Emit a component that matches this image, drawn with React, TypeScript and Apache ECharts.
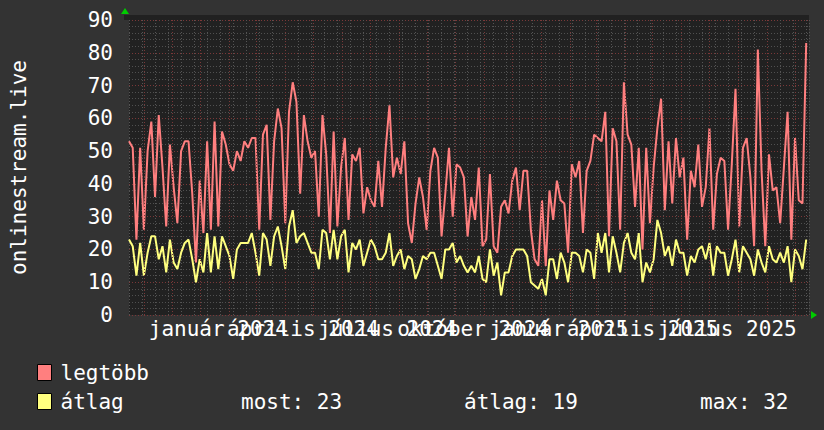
import React, { useEffect, useRef } from "react";
import * as echarts from "echarts";

const START_UTC = Date.UTC(2023, 9, 16);
const SPAN_DAYS = 731;
const STEP_DAYS = 4;
const DAY_MS = 86400000;

const SERIES_NAMES = ["legtöbb", "átlag"];
const SERIES_COLORS = ["#ff7f7f", "#ffff7f"];

const LEGTOBB = [
  53, 51, 23, 51, 26, 50, 59, 36, 61, 45, 27, 52, 39, 28, 50, 53, 53, 37, 16, 41,
  25, 53, 26, 59, 27, 56, 52, 46, 44, 50, 47, 53, 51, 54, 54, 26, 55, 58, 29, 53,
  63, 57, 28, 62, 71, 65, 37, 61, 53, 48, 50, 30, 61, 49, 25, 56, 27, 45, 54, 29,
  49, 47, 51, 31, 39, 35, 33, 47, 33, 51, 64, 42, 48, 43, 53, 28, 22, 34, 42, 36,
  26, 44, 51, 48, 24, 37, 51, 30, 46, 45, 42, 24, 36, 29, 45, 21, 23, 43, 21, 19,
  33, 35, 31, 41, 45, 32, 44, 44, 26, 17, 15, 35, 15, 38, 29, 41, 35, 34, 19, 46,
  42, 47, 25, 44, 47, 55, 54, 53, 62, 24, 57, 53, 26, 71, 55, 52, 33, 51, 20, 51,
  28, 45, 57, 66, 32, 53, 34, 54, 42, 48, 23, 44, 39, 52, 33, 39, 57, 26, 43, 48,
  47, 26, 46, 69, 27, 51, 54, 42, 21, 81, 44, 21, 49, 38, 39, 28, 45, 62, 23, 54,
  35, 34, 83,
];

const ATLAG = [
  23, 21, 12, 22, 12, 19, 24, 24, 17, 21, 13, 23, 16, 14, 19, 22, 23, 17, 10, 17,
  13, 25, 13, 24, 14, 24, 21, 18, 11, 20, 22, 22, 22, 25, 19, 12, 25, 23, 15, 24,
  27, 21, 14, 27, 32, 22, 24, 25, 22, 19, 19, 14, 26, 25, 17, 26, 17, 24, 26, 13,
  22, 20, 23, 15, 19, 23, 21, 17, 17, 19, 25, 15, 18, 20, 14, 18, 17, 11, 14, 18,
  17, 19, 19, 15, 11, 20, 20, 22, 16, 18, 15, 13, 15, 13, 18, 11, 10, 20, 12, 16,
  6, 13, 13, 18, 20, 20, 20, 18, 10, 9, 8, 11, 6, 17, 17, 11, 19, 16, 10, 19,
  19, 18, 13, 20, 19, 11, 25, 19, 25, 13, 24, 19, 13, 22, 25, 19, 17, 25, 10, 16,
  13, 17, 29, 25, 18, 21, 15, 23, 19, 19, 12, 18, 16, 20, 21, 17, 22, 12, 21, 19,
  19, 12, 17, 23, 13, 21, 19, 17, 12, 20, 16, 13, 21, 17, 16, 19, 16, 21, 10, 20,
  18, 14, 23,
];

const QUARTER_LABELS = [
  "január 2024",
  "április 2024",
  "július 2024",
  "október 2024",
  "január 2025",
  "április 2025",
  "július 2025",
];
const QUARTER_STARTS = [
  "2024-01-01",
  "2024-04-01",
  "2024-07-01",
  "2024-10-01",
  "2025-01-01",
  "2025-04-01",
  "2025-07-01",
];
const LABEL_SHIFT_DAYS = 19;

const LEGEND_STATS = ["most: 23", "átlag: 19", "max: 32"];
const Y_TITLE = "onlinestream.live";

const MONO = '"DejaVu Sans Mono", monospace';

function dayOf(iso: string): number {
  return (Date.parse(iso + "T00:00:00Z") - START_UTC) / DAY_MS;
}

function monthStarts(): number[] {
  const out: number[] = [];
  let y = 2023;
  let m = 10;
  while (y < 2025 || (y === 2025 && m <= 9)) {
    out.push((Date.UTC(y, m, 1) - START_UTC) / DAY_MS);
    m++;
    if (m > 11) {
      m = 0;
      y++;
    }
  }
  return out;
}

export default function App() {
  const ref = useRef<HTMLDivElement>(null);

  useEffect(() => {
    document.body.style.margin = "0";
    document.body.style.background = "#333333";
    if (!ref.current) return;
    const chart = echarts.init(ref.current, undefined, { renderer: "svg" });

    const labelDays = QUARTER_STARTS.map((q) => dayOf(q) + LABEL_SHIFT_DAYS);
    const months = monthStarts();
    const toPairs = (arr: number[]) => arr.map((v, i) => [i * STEP_DAYS, v]);

    const baseGraphic: any[] = [
      {
        type: "rect",
        z: 0,
        shape: { x: 124, y: 15, width: 685, height: 5 },
        style: { fill: "#212121" },
      },
      {
        type: "polygon",
        shape: { points: [[121, 14], [129, 14], [125, 8]] },
        style: { fill: "#00cc00" },
      },
      {
        type: "polygon",
        shape: { points: [[811, 311], [811, 319], [817, 315]] },
        style: { fill: "#00cc00" },
      },
      ...LEGEND_STATS.map((t, i) => ({
        type: "text",
        x: [241, 464, 700][i],
        y: 402,
        style: {
          text: t,
          fill: "#ffffff",
          fontSize: 21,
          fontFamily: MONO,
          verticalAlign: "middle",
          align: "left",
        },
      })),
    ];

    const option: any = {
      animation: false,
      backgroundColor: "#333333",
      textStyle: { fontFamily: MONO },
      grid: {
        left: 124,
        right: 15,
        top: 20,
        bottom: 115,
        show: true,
        backgroundColor: "#212121",
        borderWidth: 0,
      },
      xAxis: {
        type: "value",
        min: 0,
        max: SPAN_DAYS,
        interval: 14,
        axisLine: { show: false },
        axisTick: { show: false },
        axisLabel: { show: false },
        splitLine: {
          show: true,
          lineStyle: { color: "#555555", type: [1, 2], width: 1 },
        },
      },
      yAxis: {
        type: "value",
        min: 0,
        max: 90,
        interval: 10,
        name: Y_TITLE,
        nameLocation: "middle",
        nameRotate: 90,
        nameGap: 100,
        nameTextStyle: { color: "#ffffff", fontSize: 21, fontFamily: MONO },
        axisLine: { show: false },
        axisTick: { show: false },
        axisLabel: { color: "#ffffff", fontSize: 21, fontFamily: MONO, margin: 16 },
        splitLine: {
          show: true,
          lineStyle: { color: "#7a3838", type: [1, 2], width: 1 },
        },
        minorTick: { show: false, splitNumber: 5 },
        minorSplitLine: {
          show: true,
          lineStyle: { color: "#505050", type: [1, 2], width: 1 },
        },
      },
      legend: {
        orient: "vertical",
        left: 32,
        top: 357,
        itemWidth: 14,
        itemHeight: 16,
        itemGap: 8,
        icon: "rect",
        selectedMode: false,
        itemStyle: { borderColor: "#000000", borderWidth: 1 },
        textStyle: { color: "#ffffff", fontSize: 21, fontFamily: MONO, padding: [0, 0, 0, 4] },
        data: SERIES_NAMES,
      },
      series: [
        {
          type: "line",
          name: "__grid",
          data: [],
          z: 1,
          silent: true,
          markLine: {
            silent: true,
            symbol: "none",
            label: { show: false },
            lineStyle: { color: "#7a3838", type: [1, 2], width: 1 },
            data: months.map((d) => ({ xAxis: d })),
          },
        },
        {
          type: "line",
          name: SERIES_NAMES[0],
          data: toPairs(LEGTOBB),
          showSymbol: false,
          z: 3,
          color: SERIES_COLORS[0],
          lineStyle: { color: SERIES_COLORS[0], width: 2 },
        },
        {
          type: "line",
          name: SERIES_NAMES[1],
          data: toPairs(ATLAG),
          showSymbol: false,
          z: 4,
          color: SERIES_COLORS[1],
          lineStyle: { color: SERIES_COLORS[1], width: 2 },
        },
      ],
      graphic: baseGraphic,
    };

    chart.setOption(option);

    // quarter labels placed through the x axis scale (overlapping, as in the original RRD graph)
    const labelGraphic = labelDays.map((d, i) => {
      const px = chart.convertToPixel({ xAxisIndex: 0 }, d) as number;
      return {
        type: "text",
        x: px,
        y: 329,
        z: 10,
        style: {
          text: QUARTER_LABELS[i],
          fill: "#ffffff",
          fontSize: 21,
          fontFamily: MONO,
          align: "center",
          verticalAlign: "middle",
        },
      };
    });
    chart.setOption({ ...option, graphic: [...baseGraphic, ...labelGraphic] }, true);

    return () => chart.dispose();
  }, []);

  return <div ref={ref} style={{ width: 824, height: 430 }} />;
}
